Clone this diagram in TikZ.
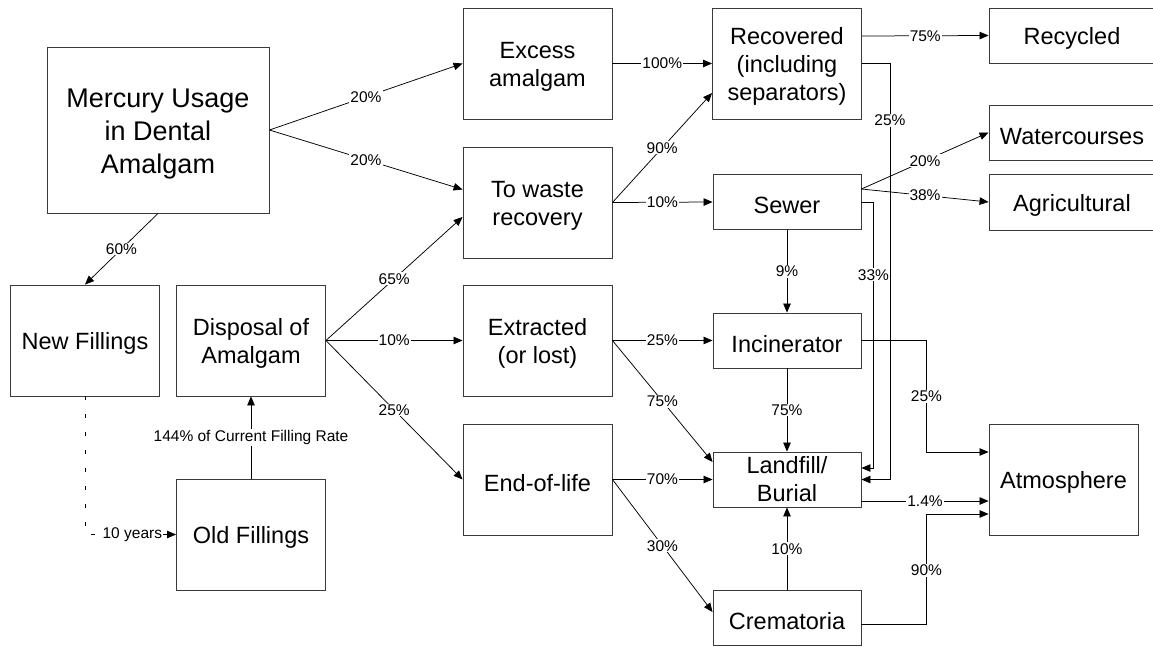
\documentclass[tikz,border=0pt]{standalone}
\usepackage{fontspec}
\setmainfont{Liberation Sans}
\usetikzlibrary{arrows.meta}
\definecolor{boxgray}{HTML}{3A3A3A}
% strut that lowers box text onto its visual centre
\newcommand{\hi}{\rule{0pt}{1em}}
\begin{document}
\begin{tikzpicture}[x=1pt,y=-1pt,
  box/.style={draw=boxgray, line width=0.9pt, fill=white, inner sep=0pt,
              align=center, font=\fontsize{23.5}{28}\selectfont},
  wide/.style={minimum width=149pt, minimum height=111pt},
  flat/.style={minimum width=148pt, minimum height=55pt},
  lbl/.style={fill=white, inner sep=1pt, font=\fontsize{15.5}{18}\selectfont},
  flow/.style={draw=black, line width=0.75pt, -{Triangle[length=9pt,width=7.5pt]}}
]
\useasboundingbox (0,0) rectangle (1153,646);
\clip (0,0) rectangle (1153,646);

% ---- boxes ----
\node[box, minimum width=222pt, minimum height=166pt,
      font=\fontsize{27}{33}\selectfont] (merc) at (158,130) {\hi Mercury Usage\\in Dental\\Amalgam};
\node[box, wide] (excess) at (537.5,63.5) {\hi Excess\\amalgam};
\node[box, wide] (waste)  at (537.5,202.5) {\hi To waste\\recovery};
\node[box, wide] (rec)    at (787,63.5) {\hi Recovered\\(including\\separators)};
\node[box, flat] (sewer)  at (787,202) {\hi Sewer};
\node[box, minimum width=166pt, minimum height=55pt] (recyc) at (1072,35.5) {\hi Recycled};
\node[box, minimum width=166pt, minimum height=55pt] (water) at (1072,132.5) {\hi Watercourses};
\node[box, minimum width=166pt, minimum height=56pt] (agri)  at (1072,202) {\hi Agricultural};
\node[box, wide] (newf)   at (85,340.5) {\hi New Fillings};
\node[box, wide] (disp)   at (251,340.5) {\hi Disposal of\\Amalgam};
\node[box, wide] (old)    at (251,534.5) {\hi Old Fillings};
\node[box, wide] (extr)   at (537.5,340.5) {\hi Extracted\\(or lost)};
\node[box, wide] (eol)    at (537.5,479.5) {\hi End-of-life};
\node[box, flat] (inc)    at (787,340.5) {\hi Incinerator};
\node[box, flat] (land)   at (787,479.5) {Landfill/\\Burial};
\node[box, flat] (crem)   at (787,618) {\hi Crematoria};
\node[box, wide] (atm)    at (1063.5,479.5) {\hi Atmosphere};

% ---- flows out of the usage box ----
\draw[flow] (merc.east) -- node[lbl]{20\%} (excess.west);
\draw[flow] (merc.east) -- node[lbl]{20\%} ([yshift=13pt]waste.west);
\draw[flow] (merc.south) -- node[lbl]{60\%} (newf.north);

% ---- filling cycle ----
\draw[line width=0.75pt, dash pattern=on 4pt off 14pt, -{Triangle[length=9pt,width=7.5pt]}]
  (newf.south) |- node[lbl, pos=0.76]{10 years} (old.west);
\draw[flow] (old.north) -- node[lbl]{144\% of Current Filling Rate} (disp.south);

% ---- disposal ----
\draw[flow] (disp.east) -- node[lbl]{65\%} ([yshift=-14.5pt]waste.west);
\draw[flow] (disp.east) -- node[lbl]{10\%} (extr.west);
\draw[flow] (disp.east) -- node[lbl]{25\%} (eol.west);

% ---- recovery and sewer ----
\draw[flow] (excess.east) -- node[lbl]{100\%} (rec.west);
\draw[flow] (waste.east) -- node[lbl]{90\%} ([yshift=-29.5pt]rec.west);
\draw[flow] (waste.east) -- node[lbl]{10\%} (sewer.west);
\draw[flow] ([yshift=27.5pt]rec.east) -- node[lbl]{75\%} (recyc.west);
\draw[flow] (rec.east) -- ++(28,0) |- node[lbl, pos=0.068]{25\%} (land.east);
\draw[flow] ([yshift=13pt]sewer.east) -- node[lbl]{20\%} (water.west);
\draw[flow] ([yshift=13pt]sewer.east) -- node[lbl]{38\%} (agri.west);
\draw[flow] (sewer.east) -- ++(12,0) |- node[lbl, pos=0.137]{33\%} ([yshift=11.5pt]land.east);
\draw[flow] (sewer.south) -- node[lbl]{9\%} (inc.north);

% ---- extraction and end of life ----
\draw[flow] (extr.east) -- node[lbl]{25\%} (inc.west);
\draw[flow] (extr.east) -- node[lbl]{75\%} ([yshift=17.5pt]land.west);
\draw[flow] (inc.south) -- node[lbl]{75\%} (land.north);
\draw[flow] (eol.east) -- node[lbl]{70\%} (land.west);
\draw[flow] (eol.east) -- node[lbl]{30\%} ([yshift=6pt]crem.west);
\draw[flow] (crem.north) -- node[lbl]{10\%} (land.south);

% ---- releases to the atmosphere ----
\draw[flow] (inc.east) -- ++(65,0) |- node[lbl, pos=0.25]{25\%} ([yshift=27.5pt]atm.west);
\draw[flow] ([yshift=-21.5pt]land.east) -- node[lbl]{1.4\%} ([yshift=-21.5pt]atm.west);
\draw[flow] ([yshift=-6pt]crem.east) -- ++(65,0) |- node[lbl, pos=0.245]{90\%} ([yshift=-34.5pt]atm.west);
\end{tikzpicture}
\end{document}
